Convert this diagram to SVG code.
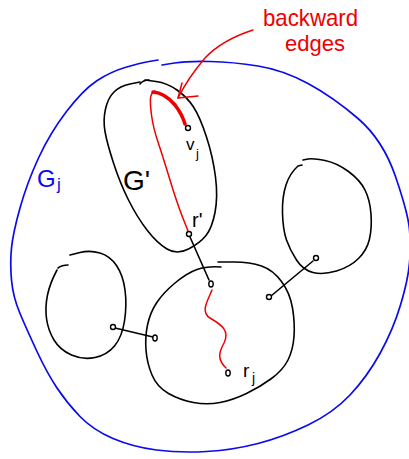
<svg xmlns="http://www.w3.org/2000/svg" width="409" height="459" viewBox="0 0 409 459">
<style>
.k{fill:none;stroke:#000;stroke-width:1.6;stroke-linecap:round;stroke-linejoin:round}
.b{fill:none;stroke:#0a0aee;stroke-width:1.7;stroke-linecap:round}
.r{fill:none;stroke:#ee0000;stroke-width:1.5;stroke-linecap:round;stroke-linejoin:round}
.rt{fill:none;stroke:#ee0000;stroke-width:3.6;stroke-linecap:round}
.v{fill:#fff;stroke:#000;stroke-width:1.4}
.t{font-family:"Liberation Sans","DejaVu Sans",sans-serif}
</style>
<rect width="409" height="459" fill="#fff"/>
<g id="Gj">
<path class="b" d="M158,60 L149,61.5 Q140,63 125,67.5 Q110,72 96.5,81 Q83,90 66.5,111.5 Q50,133 38.5,158 Q27,183 20,208 Q13,233 11.5,248 Q10,263 11.5,280 Q13,297 20,313.5 Q27,330 37,351.5 Q47,373 57,388 Q67,403 80,416.5 Q93,430 113,438.5 Q133,447 156.5,450 Q180,453 206.5,451.5 Q233,450 258,443.5 Q283,437 308,425 Q333,413 350,395 Q367,377 380,353.5 Q393,330 400.5,305 Q408,280 409.5,263 Q411,246 409.5,229.5 Q408,213 395.5,176.5 Q383,140 358,118.5 Q333,97 308,83.5 Q283,70 258,66 Q233,62 210,61.5 Q187,61 174.5,63 L162,65"/>
<text class="t" x="37" y="187" font-size="24" fill="#0a0aee">G</text>
<text class="t" x="57" y="190" font-size="17" fill="#0a0aee">j</text>
</g>
<g id="Gprime">
<path class="k" d="M145,80 L156,81.5 Q167,83 177,90 Q187,97 193.5,107 Q200,117 206.5,137 Q213,157 215.5,177 Q218,197 215,212.5 Q212,228 206,235.5 Q200,243 188.5,249 Q177,255 167,249 Q157,243 147,230 Q137,217 128.5,200 Q120,183 113.5,163 Q107,143 105,131.5 Q103,120 105.5,109 Q108,98 114,92 Q120,86 130,84 L140,82"/>
<path class="k" d="M140,84 Q143,80 149,80"/>
<text class="t" x="123" y="190" font-size="28">G'</text>
</g>
<g id="left">
<path class="k" d="M70,255 L80,252.5 Q90,250 100,253 Q110,256 116.5,265.5 Q123,275 125,290 Q127,305 124.5,321 Q122,337 114.5,346 Q107,355 95,357.5 Q83,360 71.5,355 Q60,350 54,340 Q48,330 46.5,318.5 Q45,307 47.5,295 Q50,283 57,270"/>
<path class="k" d="M58,268 Q62,265 68,265"/>
</g>
<g id="right">
<path class="k" d="M303,160 L308,159 Q313,158 325,160.5 Q337,163 348.5,171.5 Q360,180 365,190 Q370,200 371,214 Q372,228 369.5,239 Q367,250 358.5,258.5 Q350,267 336.5,271 Q323,275 313,272.5 Q303,270 296.5,260 Q290,250 286.5,240 Q283,230 282.5,213.5 Q282,197 286,185 Q290,173 298,166 L302,165"/>
</g>
<g id="main">
<path class="k" d="M218,262 L234,262 Q250,262 261.5,266 Q273,270 281.5,281.5 Q290,293 292.5,308 Q295,323 294,336.5 Q293,350 288,360 Q283,370 271.5,378.5 Q260,387 246.5,393.5 Q233,400 220,402.5 Q207,405 193.5,402.5 Q180,400 168.5,393.5 Q157,387 152,375 Q147,363 146,350 Q145,337 147.5,325 Q150,313 156.5,303 Q163,293 175,283 Q187,273 197,269.5 Q207,266 221,267"/>
<text class="t" x="243" y="377" font-size="19">r</text>
<text class="t" x="252" y="383" font-size="14">j</text>
</g>
<g id="connectors">
<path class="k" d="M190,237 L209,280"/>
<path class="k" d="M313,261 L271,296"/>
<path class="k" d="M115,328 L153,337"/>
<path class="r" d="M188,231 L182.5,217 Q177,203 170,180 Q163,157 158,142 Q153,127 151.5,115 Q150,103 150.5,98 Q151,93 155,91"/>
<path class="rt" d="M153,92 Q165,93 175,105 Q182,114 185,124"/>
<path class="r" d="M212,290 C208,300 200,312 210,318 C222,325 230,331 224,343 C218,354 218,360 226,368"/>
<path class="r" d="M253,30 Q222,40 205,58 Q188,78 178,98"/>
<path class="r" d="M182,83 L178,98 L198,96"/>
</g>
<g id="nodes">
<circle id="vj" class="v" cx="188" cy="128" r="2.5"/>
<circle id="rprime" class="v" cx="189" cy="234" r="2.5"/>
<ellipse id="m_top" class="v" cx="211" cy="284" rx="2.2" ry="3"/>
<ellipse id="rj" class="v" cx="228" cy="373" rx="2.2" ry="3"/>
<circle id="m_right" class="v" cx="269" cy="297" r="2.5"/>
<circle id="r_node" class="v" cx="316" cy="258" r="2.5"/>
<circle id="l_node" class="v" cx="113" cy="327" r="2.5"/>
<ellipse id="m_left" class="v" cx="155" cy="338" rx="2.2" ry="3"/>
<text class="t" x="186" y="150" font-size="17">v</text>
<text class="t" x="196" y="158" font-size="13">j</text>
<text class="t" x="192" y="227" font-size="20">r'</text>
</g>
<g id="label">
<text class="t" x="263" y="26" font-size="24" fill="#ee0000" textLength="95" lengthAdjust="spacingAndGlyphs">backward</text>
<text class="t" x="285" y="51" font-size="22" fill="#ee0000" textLength="60" lengthAdjust="spacingAndGlyphs">edges</text>
</g>
</svg>
